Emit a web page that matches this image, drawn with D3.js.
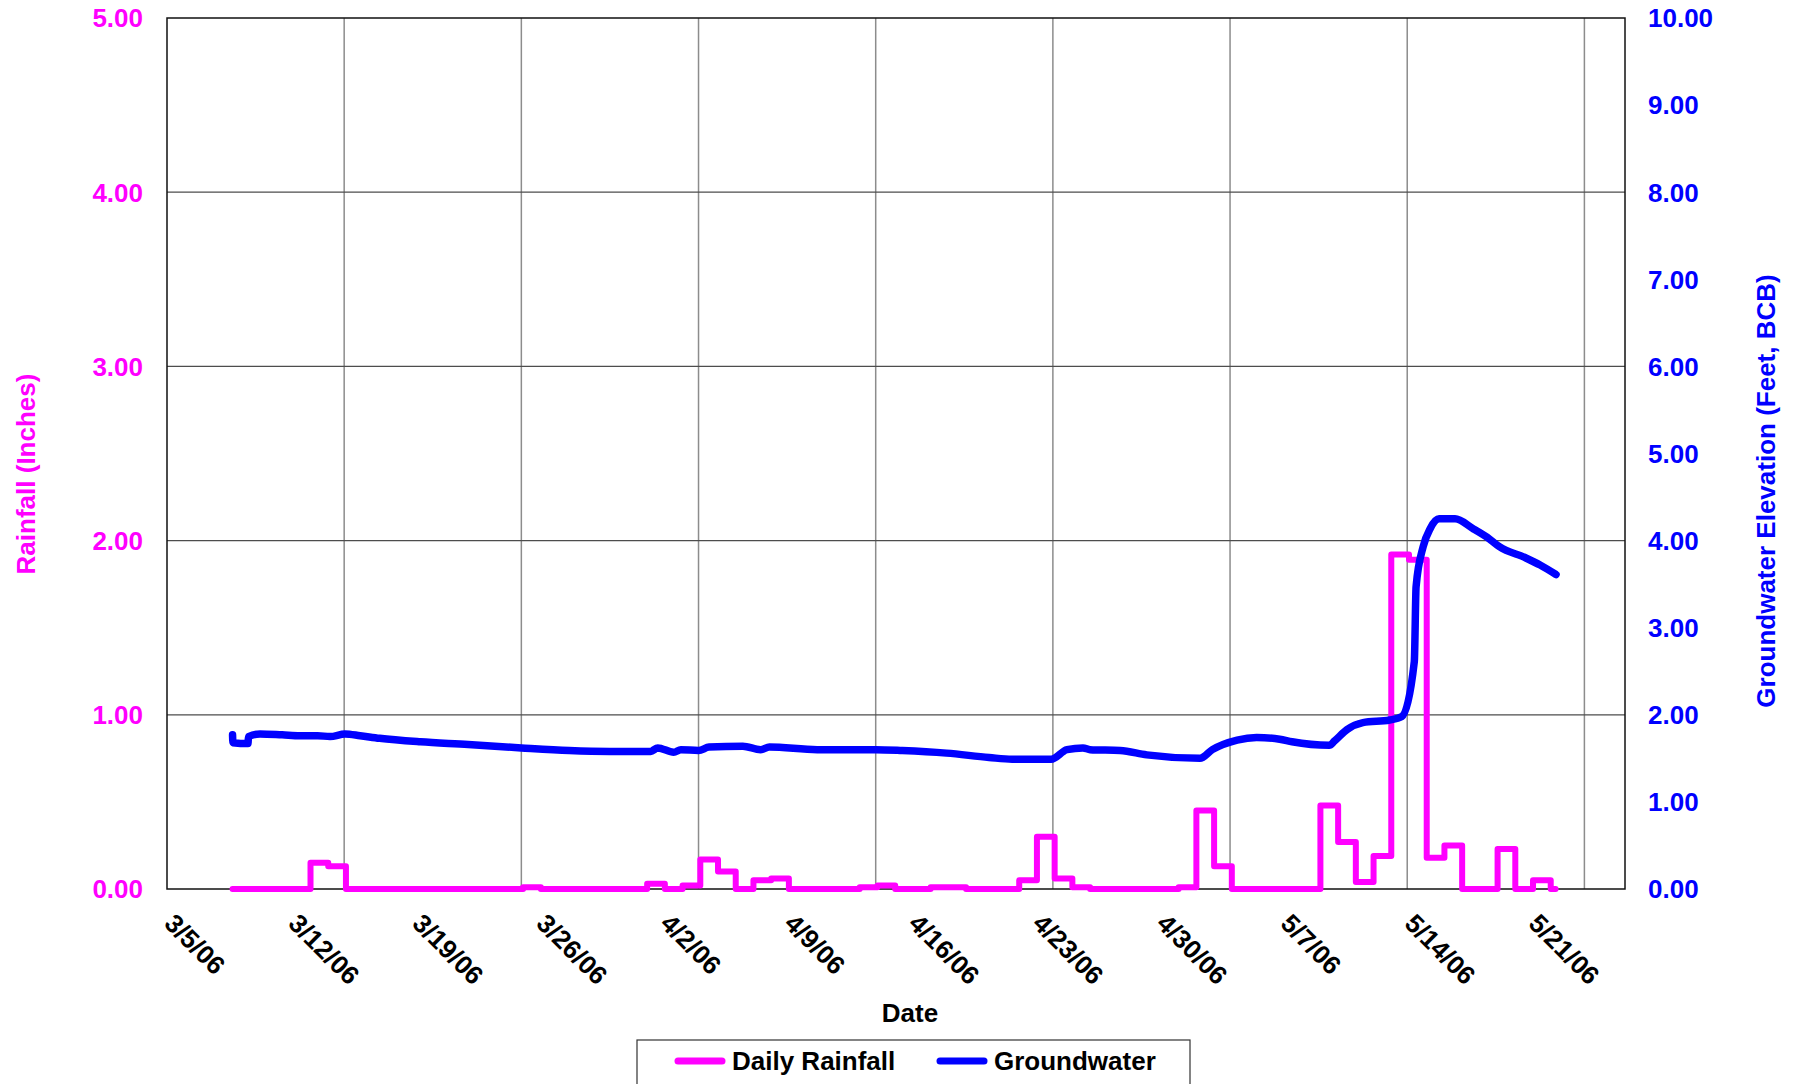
<!DOCTYPE html>
<html>
<head>
<meta charset="utf-8">
<script src="https://cdn.jsdelivr.net/npm/d3@7/dist/d3.min.js"></script>
<style>
  body { margin: 0; background: #fff; }
  text { font-family: "Liberation Sans", Arial, sans-serif; font-weight: bold; }
</style>
</head>
<body>
<svg id="chart"></svg>
<script>
// axis settings
var xStart = "3/5/06 00:00",
  xEnd = "5/26/06 07:00";
var xLabelDates = ["3/5/06", "3/12/06", "3/19/06", "3/26/06", "4/2/06", "4/9/06",
  "4/16/06", "4/23/06", "4/30/06", "5/7/06", "5/14/06", "5/21/06"];
var xGridDates = ["3/15/06", "3/25/06", "4/4/06", "4/14/06", "4/24/06", "5/4/06", "5/14/06", "5/24/06"];
var rainTicks = [0, 1, 2, 3, 4, 5];
var gwTicks = [0, 1, 2, 3, 4, 5, 6, 7, 8, 9, 10];

// daily rainfall (inches), one value per day from 3/8/06 to 5/22/06
var rainFirstDay = "3/8/06";
var rainRecordStart = "3/8/06 16:48",
  rainRecordEnd = "5/22/06 09:00",
  rainReadHour = 2.4;
var rainDaily = [
  0, 0, 0, 0, 0, 0.15, 0.13, 0, 0, 0,
  0, 0, 0, 0, 0, 0, 0, 0.01, 0, 0,
  0, 0, 0, 0, 0.03, 0, 0.02, 0.17, 0.10, 0,
  0.05, 0.06, 0, 0, 0, 0, 0.01, 0.02, 0, 0,
  0.01, 0.01, 0, 0, 0, 0.05, 0.30, 0.06, 0.01, 0,
  0, 0, 0, 0, 0.01, 0.45, 0.13, 0, 0, 0,
  0, 0, 0.48, 0.27, 0.04, 0.19, 1.92, 1.89, 0.18, 0.25,
  0, 0, 0.23, 0, 0.05, 0
];

// groundwater (feet, BCB); time in days after 3/5/06
var gwDay = [3.70, 3.72, 4.57, 4.60, 5.25, 6.5, 7.5, 8.5, 9.2, 10.05,
  10.9, 12, 14.3, 17, 20, 22.7, 25, 27.3, 27.7, 28.6,
  29, 30, 30.6, 32.5, 33.5, 34, 36.7, 40, 41.5, 44,
  46.4, 47.7, 49.9, 50.8, 51.7, 52.1, 53.8, 55.3, 58.3, 59,
  60.4, 61.5, 62.8, 63.5, 65.6, 65.9, 66.6, 67.5, 69, 69.7,
  70.4, 70.5, 70.9, 71.3, 71.8, 72.7, 73.7, 74.5, 75.2, 76.7,
  77.5, 78.4];
var gwLevel = [1.77, 1.68, 1.67, 1.75, 1.78, 1.77, 1.76, 1.76, 1.75, 1.78,
  1.76, 1.73, 1.69, 1.66, 1.62, 1.59, 1.58, 1.58, 1.62, 1.57,
  1.60, 1.59, 1.63, 1.64, 1.60, 1.63, 1.60, 1.60, 1.59, 1.56,
  1.51, 1.49, 1.49, 1.60, 1.62, 1.60, 1.59, 1.54, 1.50, 1.60,
  1.71, 1.74, 1.72, 1.69, 1.65, 1.70, 1.83, 1.91, 1.94, 1.98,
  2.61, 3.47, 3.93, 4.14, 4.25, 4.25, 4.14, 4.04, 3.93, 3.80,
  3.72, 3.61];

var W = 1799, H = 1084;
var margin = { top: 18, right: 174, bottom: 195, left: 167 };
var pw = W - margin.left - margin.right,
  ph = H - margin.top - margin.bottom;

var parseDay = d3.utcParse("%m/%d/%y"),
  parseTime = d3.utcParse("%m/%d/%y %H:%M"),
  fmtDay = d3.utcFormat("%-m/%-d/%y");

var t0 = parseTime(xStart);

var svg = d3.select("#chart").attr("width", W).attr("height", H);
var g = svg.append("g").attr("transform", "translate(" + margin.left + "," + margin.top + ")");

var x = d3.scaleUtc().domain([t0, parseTime(xEnd)]).range([0, pw]);
var yRain = d3.scaleLinear().domain([0, 5]).range([ph, 0]);
var yGw = d3.scaleLinear().domain([0, 10]).range([ph, 0]);

// gridlines
g.append("g").selectAll("line")
  .data(xGridDates).enter()
  .append("line")
  .attr("x1", function(d) { return x(parseDay(d)); })
  .attr("x2", function(d) { return x(parseDay(d)); })
  .attr("y1", 0).attr("y2", ph)
  .attr("stroke", "#8c8c8c").attr("stroke-width", 1.5);

g.append("g").selectAll("line")
  .data(rainTicks.slice(1, -1)).enter()
  .append("line")
  .attr("x1", 0).attr("x2", pw)
  .attr("y1", function(d) { return yRain(d); })
  .attr("y2", function(d) { return yRain(d); })
  .attr("stroke", "#4d4d4d").attr("stroke-width", 1.2);

g.append("rect")
  .attr("width", pw).attr("height", ph)
  .attr("fill", "none").attr("stroke", "#111").attr("stroke-width", 1.5);

// left axis labels
g.append("g").selectAll("text")
  .data(rainTicks).enter()
  .append("text")
  .attr("x", -24).attr("y", function(d) { return yRain(d); })
  .attr("dy", "0.36em")
  .attr("text-anchor", "end")
  .style("font-size", "26px")
  .attr("fill", "#ff00ff")
  .text(function(d) { return d3.format(".2f")(d); });

// right axis labels
g.append("g").selectAll("text")
  .data(gwTicks).enter()
  .append("text")
  .attr("x", pw + 23).attr("y", function(d) { return yGw(d); })
  .attr("dy", "0.36em")
  .style("font-size", "26px")
  .attr("fill", "#0000ff")
  .text(function(d) { return d3.format(".2f")(d); });

// date labels
g.append("g").selectAll("text")
  .data(xLabelDates).enter()
  .append("text")
  .attr("transform", function(d) {
    return "translate(" + (x(parseDay(d)) - 4) + "," + (ph + 36) + ") rotate(45)";
  })
  .style("font-size", "26px")
  .attr("fill", "#000")
  .text(function(d) { return fmtDay(parseDay(d)); });

// axis titles
svg.append("text")
  .attr("transform", "translate(26,474) rotate(-90)")
  .attr("dy", "0.36em")
  .attr("text-anchor", "middle")
  .style("font-size", "26px")
  .attr("fill", "#ff00ff")
  .text("Rainfall (Inches)");

svg.append("text")
  .attr("transform", "translate(1766,491) rotate(-90)")
  .attr("dy", "0.36em")
  .attr("text-anchor", "middle")
  .style("font-size", "26px")
  .attr("fill", "#0000ff")
  .text("Groundwater Elevation (Feet, BCB)");

svg.append("text")
  .attr("x", 910).attr("y", 1013)
  .attr("dy", "0.36em")
  .attr("text-anchor", "middle")
  .style("font-size", "26px")
  .attr("fill", "#000")
  .text("Date");

// rainfall step series
var day0 = parseDay(rainFirstDay);
var rainPts = [{ t: parseTime(rainRecordStart), v: rainDaily[0] }];
rainDaily.forEach(function(v, i) {
  if (i === 0) return;
  var t = d3.utcDay.offset(day0, i);
  rainPts.push({ t: new Date(+t + rainReadHour * 36e5), v: v });
});
rainPts.push({ t: parseTime(rainRecordEnd), v: rainDaily[rainDaily.length - 1] });

var rainLine = d3.line()
  .x(function(d) { return x(d.t); })
  .y(function(d) { return yRain(d.v); })
  .curve(d3.curveStepAfter);

g.append("path")
  .datum(rainPts)
  .attr("d", rainLine)
  .attr("fill", "none")
  .attr("stroke", "#ff00ff")
  .attr("stroke-width", 6)
  .attr("stroke-linejoin", "round")
  .attr("stroke-linecap", "round");

// groundwater series
var gwPts = gwDay.map(function(d, i) {
  return { t: new Date(+t0 + d * 864e5), v: gwLevel[i] };
});

var gwLine = d3.line()
  .x(function(d) { return x(d.t); })
  .y(function(d) { return yGw(d.v); })
  .curve(d3.curveMonotoneX);

g.append("path")
  .datum(gwPts)
  .attr("d", gwLine)
  .attr("fill", "none")
  .attr("stroke", "#0000ff")
  .attr("stroke-width", 7.5)
  .attr("stroke-linejoin", "round")
  .attr("stroke-linecap", "round");

// legend
var legend = svg.append("g").attr("transform", "translate(637,1040)");
legend.append("rect")
  .attr("width", 553).attr("height", 70)
  .attr("fill", "#fff").attr("stroke", "#333").attr("stroke-width", 1.2);

var legendItems = [
  { name: "Daily Rainfall", color: "#ff00ff", x: 41 },
  { name: "Groundwater", color: "#0000ff", x: 303 }
];
var li = legend.selectAll("g.item")
  .data(legendItems).enter()
  .append("g")
  .attr("transform", function(d) { return "translate(" + d.x + ",21)"; });
li.append("line")
  .attr("x1", 0).attr("x2", 44)
  .attr("stroke", function(d) { return d.color; })
  .attr("stroke-width", 7)
  .attr("stroke-linecap", "round");
li.append("text")
  .attr("x", 54).attr("dy", "0.36em")
  .style("font-size", "26px")
  .attr("fill", "#000")
  .text(function(d) { return d.name; });
</script>
</body>
</html>
